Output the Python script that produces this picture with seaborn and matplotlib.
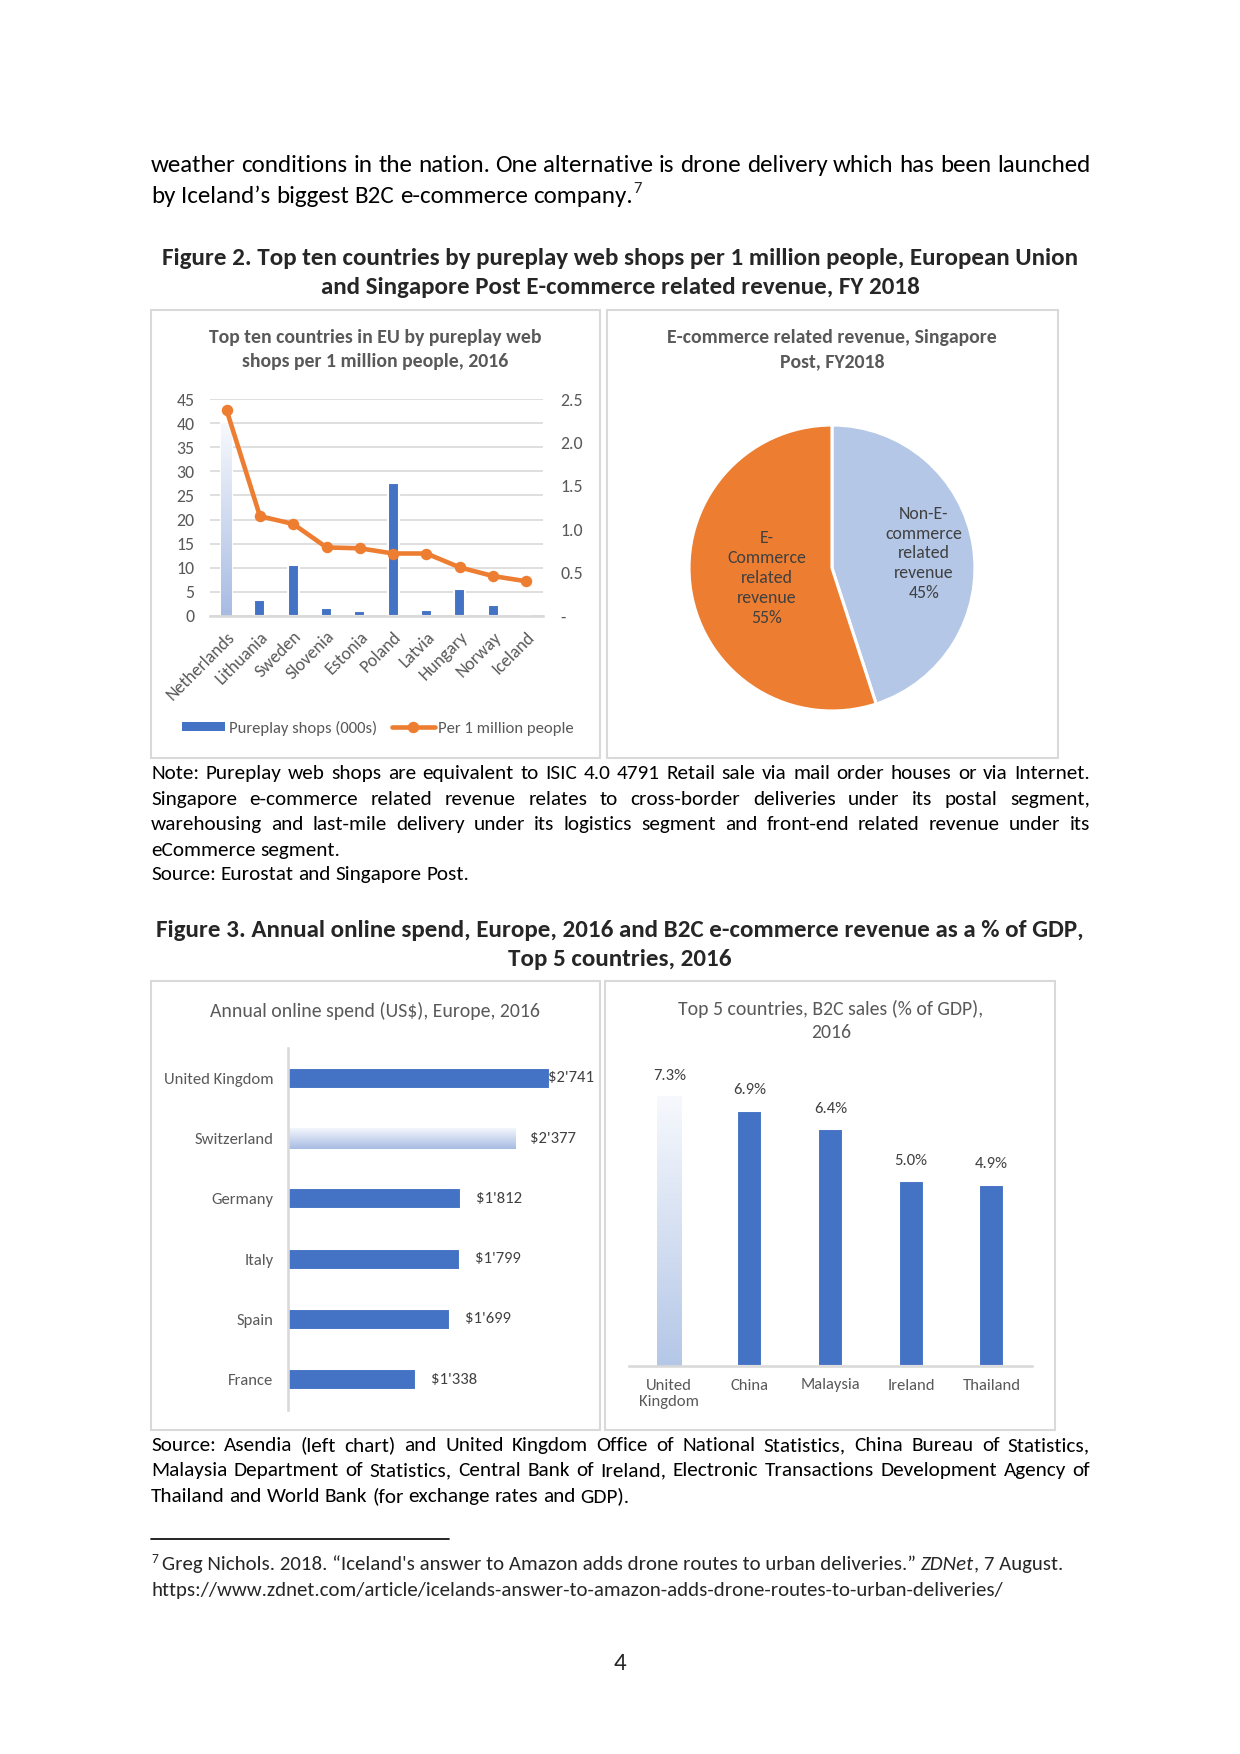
#!/usr/bin/env python3
"""
Page 4 recreation: Figure 2 (pureplay web shops + Singapore Post pie)
and Figure 3 (annual online spend + B2C sales as % of GDP).
"""
import numpy as np
import matplotlib
matplotlib.use("Agg")
import matplotlib.pyplot as plt
import seaborn as sns
from matplotlib import font_manager
from matplotlib.colors import LinearSegmentedColormap
from matplotlib.lines import Line2D
from matplotlib.patches import Patch, Rectangle

# ---- data -------------------------------------------------------------
shop_countries = ["Netherlands", "Lithuania", "Sweden", "Slovenia", "Estonia",
                  "Poland", "Latvia", "Hungary", "Norway", "Iceland"]
pureplay_shops = [40.0, 3.3, 10.5, 1.6, 1.0, 27.6, 1.3, 5.5, 2.3, 0.0]   # 000s
per_million = [2.37, 1.15, 1.06, 0.79, 0.78, 0.72, 0.72, 0.56, 0.46, 0.40]
shop_left_ticks = [0, 5, 10, 15, 20, 25, 30, 35, 40, 45]
shop_right_ticks = [0, 0.5, 1.0, 1.5, 2.0, 2.5]

pie_labels = ["Non-E-\ncommerce\nrelated\nrevenue", "E-\nCommerce\nrelated\nrevenue"]
pie_shares = [45, 55]

spend_countries = ["United Kingdom", "Switzerland", "Germany", "Italy", "Spain", "France"]
spend_usd = [2741, 2377, 1812, 1799, 1699, 1338]

gdp_countries = ["United\nKingdom", "China", "Malaysia", "Ireland", "Thailand"]
gdp_share = [7.3, 6.9, 6.4, 5.0, 4.9]

# ---- style ------------------------------------------------------------
W, H, DPI = 1240, 1754, 150
BLUE = "#4472C4"
ORANGE = "#ED7D31"
LIGHT_BLUE = "#B4C7E7"
GREY_TXT = "#595959"
DARK_TXT = "#404040"
LINE_GREY = "#D9D9D9"
GRAD_TOP = "#f7f9fd"
GRAD_BOTTOM = "#a7bbe3"
BODY_PT = 12
NOTE_PT = 10.2

sns.set_theme(style="white")
installed = {f.name for f in font_manager.fontManager.ttflist}
FONT = next(n for n in ["Carlito", "Calibri", "Lato", "Open Sans", "DejaVu Sans"] if n in installed)
plt.rcParams["font.family"] = [FONT, "DejaVu Sans"]

fig = plt.figure(figsize=(W / DPI, H / DPI), dpi=DPI)
renderer = fig.canvas.get_renderer()


def rect(x0, y0, x1, y1):
    """pixel box (top-left origin) -> figure fraction rect"""
    return [x0 / W, 1 - y1 / H, (x1 - x0) / W, (y1 - y0) / H]


def ftext(x, y, s, **kw):
    return fig.text(x / W, 1 - y / H, s, **kw)


def space_width(**kw):
    a = fig.text(0, 0, "a a", **kw)
    b = fig.text(0, 0, "aa", **kw)
    w = a.get_window_extent(renderer).width - b.get_window_extent(renderer).width
    a.remove()
    b.remove()
    return w


def body_line(line, y, justify=True, x0=151, x1=1090, **kw):
    kw.setdefault("fontsize", BODY_PT)
    kw.setdefault("color", "black")
    words = line.split(" ")
    texts = [ftext(0, y, w, va="baseline", ha="left", **kw) for w in words]
    widths = [t.get_window_extent(renderer).width for t in texts]
    if justify and len(words) > 1:
        gap = (x1 - x0 - sum(widths)) / (len(words) - 1)
    else:
        gap = space_width(**kw)
    x = x0
    for t, w in zip(texts, widths):
        t.set_x(x / W)
        x += w + gap
    return x - gap


def gradient_bar(ax, patch, low_col, high_col):
    """fill a bar patch with a vertical gradient (data-low -> data-high)"""
    x0, y0 = patch.get_x(), patch.get_y()
    w, h = patch.get_width(), patch.get_height()
    xl, yl = ax.get_xlim(), ax.get_ylim()
    cmap = LinearSegmentedColormap.from_list("grad", [low_col, high_col])
    grad = np.linspace(0, 1, 256).reshape(-1, 1)
    im = ax.imshow(grad, extent=[x0, x0 + w, y0, y0 + h], origin="lower",
                   aspect="auto", cmap=cmap, zorder=patch.get_zorder())
    im.set_clip_path(patch)
    patch.set_facecolor("none")
    ax.set_xlim(xl)
    ax.set_ylim(yl)


def chart_box(x0, y0, x1, y1):
    fig.patches.append(Rectangle((x0 / W, 1 - y1 / H), (x1 - x0) / W, (y1 - y0) / H,
                                 transform=fig.transFigure, fill=False,
                                 edgecolor=LINE_GREY, linewidth=1.0))


# ---- body text ----------------------------------------------------------
body_line("weather conditions in the nation. One alternative is drone delivery which has been launched", 172)
xe = body_line("by Iceland\u2019s biggest B2C e-commerce company.", 203, justify=False)
ftext(xe, 193, "7", fontsize=8, va="baseline")

ftext(620, 265, "Figure 2. Top ten countries by pureplay web shops per 1 million people, European Union",
      ha="center", va="baseline", fontsize=BODY_PT, fontweight="bold")
ftext(620, 294, "and Singapore Post E-commerce related revenue, FY 2018",
      ha="center", va="baseline", fontsize=BODY_PT, fontweight="bold")

chart_box(151, 310, 600, 758)
chart_box(607, 310, 1058, 758)

note = [
    ("Note: Pureplay web shops are equivalent to ISIC 4.0 4791 Retail sale via mail order houses or via Internet.", True),
    ("Singapore e-commerce related revenue relates to cross-border deliveries under its postal segment,", True),
    ("warehousing and last-mile delivery under its logistics segment and front-end related revenue under its", True),
    ("eCommerce segment.", False),
    ("Source: Eurostat and Singapore Post.", False),
]
for (line, just), y in zip(note, [779, 805, 830, 856, 880]):
    body_line(line, y, justify=just, fontsize=NOTE_PT)

ftext(620, 937, "Figure 3. Annual online spend, Europe, 2016 and B2C e-commerce revenue as a % of GDP,",
      ha="center", va="baseline", fontsize=BODY_PT, fontweight="bold")
ftext(620, 966, "Top 5 countries, 2016", ha="center", va="baseline", fontsize=BODY_PT, fontweight="bold")

chart_box(151, 981, 600, 1430)
chart_box(605, 981, 1055, 1430)

source = [
    ("Source: Asendia (left chart) and United Kingdom Office of National Statistics, China Bureau of Statistics,", True),
    ("Malaysia Department of Statistics, Central Bank of Ireland, Electronic Transactions Development Agency of", True),
    ("Thailand and World Bank (for exchange rates and GDP).", False),
]
for (line, just), y in zip(source, [1451, 1476, 1502]):
    body_line(line, y, justify=just, fontsize=NOTE_PT)

fig.lines.append(Line2D([151 / W, 449 / W], [1 - 1539 / H, 1 - 1539 / H],
                        transform=fig.transFigure, color="black", lw=0.8))
ftext(151, 1563, "7", fontsize=6.5, va="baseline")
x = 151 + 11
t = ftext(x, 1570, "Greg Nichols. 2018. \u201cIceland's answer to Amazon adds drone routes to urban deliveries.\u201d",
          fontsize=10, va="baseline")
x += t.get_window_extent(renderer).width + space_width(fontsize=10)
t = ftext(x, 1570, "ZDNet", fontsize=10, style="italic", va="baseline")
x += t.get_window_extent(renderer).width
ftext(x, 1570, ", 7 August.", fontsize=10, va="baseline")
ftext(151, 1596, "https://www.zdnet.com/article/icelands-answer-to-amazon-adds-drone-routes-to-urban-deliveries/",
      fontsize=10, va="baseline")

ftext(620, 1663, "4", ha="center", va="center", fontsize=BODY_PT)

# ---- chart 1: pureplay shops (bars) + per 1 million people (line) --------
ax1 = fig.add_axes(rect(210, 399, 543, 616))
pos = np.arange(len(shop_countries))
sns.barplot(x=pos, y=pureplay_shops, color=BLUE, saturation=1, width=0.33, ax=ax1, zorder=2)
ax1.set_xlim(-0.5, len(shop_countries) - 0.5)
ax1.set_ylim(0, 45)
ax1.set_yticks(shop_left_ticks)
ax1.set_xticks(pos)
ax1.set_xticklabels(shop_countries, rotation=45, ha="right", va="top", rotation_mode="anchor")
ax1.yaxis.grid(True, color=LINE_GREY, lw=0.8)
ax1.set_axisbelow(True)
ax1.tick_params(axis="both", length=0, labelsize=8.5, labelcolor=GREY_TXT)
ax1.tick_params(axis="x", pad=6)
ax1.tick_params(axis="y", pad=7.5)
for side in ["top", "right", "left"]:
    ax1.spines[side].set_visible(False)
ax1.spines["bottom"].set_color(LINE_GREY)
ax1.set_xlabel("")
gradient_bar(ax1, ax1.patches[0], GRAD_BOTTOM, GRAD_TOP)

ax2 = ax1.twinx()
sns.lineplot(x=pos, y=per_million, ax=ax2, color=ORANGE, lw=2.2, marker="o",
             markersize=5.5, markeredgewidth=0, sort=False)
ax2.set_ylim(0, 2.5)
ax2.set_yticks(shop_right_ticks)
ax2.set_yticklabels(["-" if v == 0 else f"{v:.1f}" for v in shop_right_ticks])
ax2.tick_params(axis="y", length=0, labelsize=8.5, labelcolor=GREY_TXT, pad=8.5)
for side in ax2.spines:
    ax2.spines[side].set_visible(False)
ax2.set_ylabel("")

ftext(375, 337, "Top ten countries in EU by pureplay web", ha="center", va="center",
      fontsize=9.5, fontweight="bold", color=GREY_TXT)
ftext(375, 362, "shops per 1 million people, 2016", ha="center", va="center",
      fontsize=9.5, fontweight="bold", color=GREY_TXT)

handles = [Patch(facecolor=BLUE, edgecolor="none"),
           Line2D([], [], color=ORANGE, lw=2.2, marker="o", markersize=5.5, markeredgewidth=0)]
fig.legend(handles, ["Pureplay shops (000s)", "Per 1 million people"], loc="center",
           bbox_to_anchor=(378 / W, 1 - 728 / H), ncol=2, frameon=False, fontsize=8,
           labelcolor=GREY_TXT, handlelength=2.6, handleheight=0.5, handletextpad=0.2,
           columnspacing=0.9)

# ---- chart 2: Singapore Post pie ---------------------------------------
axp = fig.add_axes(rect(689, 425, 975, 711))
wedges, _ = axp.pie(pie_shares, colors=[LIGHT_BLUE, ORANGE], startangle=90, counterclock=False,
                    wedgeprops=dict(edgecolor="white", linewidth=1.5))
axp.set_xlim(-1, 1)
axp.set_ylim(-1, 1)
axp.set_aspect("equal")
axp.axis("off")
for wdg, lab, share, r in zip(wedges, pie_labels, pie_shares, [0.65, 0.46]):
    mid = np.deg2rad((wdg.theta1 + wdg.theta2) / 2)
    axp.text(r * np.cos(mid), r * np.sin(mid), f"{lab}\n{share}%", ha="center", va="center",
             fontsize=8.5, color=DARK_TXT, linespacing=1.3)

ftext(832, 337, "E-commerce related revenue, Singapore", ha="center", va="center",
      fontsize=9.5, fontweight="bold", color=GREY_TXT)
ftext(832, 362, "Post, FY2018", ha="center", va="center",
      fontsize=9.5, fontweight="bold", color=GREY_TXT)

# ---- chart 3: annual online spend --------------------------------------
ax3 = fig.add_axes(rect(288, 1048, 588, 1410))
sns.barplot(x=spend_usd, y=spend_countries, orient="h", color=BLUE, saturation=1,
            width=0.35, ax=ax3)
ax3.set_xlim(0, 3138)
ax3.set_ylim(len(spend_countries) - 0.5, -0.5)
gradient_bar(ax3, ax3.patches[1], GRAD_TOP, GRAD_BOTTOM)
ax3.set_xticks([])
ax3.set_xlabel("")
ax3.set_ylabel("")
ax3.tick_params(axis="y", length=0, labelsize=8, labelcolor=GREY_TXT, pad=7)
for side in ["top", "right", "bottom"]:
    ax3.spines[side].set_visible(False)
ax3.spines["left"].set_color(LINE_GREY)
LABEL_CAP = 2720
for i, v in enumerate(spend_usd):
    ax3.text(min(v + 157, LABEL_CAP), i, f"${v:,}".replace(",", "'"), ha="left", va="center",
             fontsize=8, color=DARK_TXT, clip_on=False)
ftext(375, 1011, "Annual online spend (US$), Europe, 2016", ha="center", va="center",
      fontsize=9.5, color=GREY_TXT)

# ---- chart 4: B2C sales as % of GDP --------------------------------------
ax4 = fig.add_axes(rect(629, 1070, 1032, 1366))
sns.barplot(x=gdp_countries, y=gdp_share, color=BLUE, saturation=1, width=0.31, ax=ax4)
ax4.set_ylim(0, 8)
ax4.set_xlim(-0.5, len(gdp_countries) - 0.5)
gradient_bar(ax4, ax4.patches[0], LIGHT_BLUE, GRAD_TOP)
ax4.set_yticks([])
ax4.set_xlabel("")
ax4.set_ylabel("")
ax4.tick_params(axis="x", length=0, labelsize=8, labelcolor=GREY_TXT, pad=6)
for side in ["top", "right", "left"]:
    ax4.spines[side].set_visible(False)
ax4.spines["bottom"].set_color(LINE_GREY)
for i, v in enumerate(gdp_share):
    ax4.text(i, v + 0.55, f"{v:.1f}%", ha="center", va="center", fontsize=8, color=DARK_TXT)
ftext(831, 1009, "Top 5 countries, B2C sales (% of GDP),", ha="center", va="center",
      fontsize=9.5, color=GREY_TXT)
ftext(831, 1033, "2016", ha="center", va="center", fontsize=9.5, color=GREY_TXT)

fig.savefig("out.png", dpi=DPI, facecolor="white")
print("saved out.png")
